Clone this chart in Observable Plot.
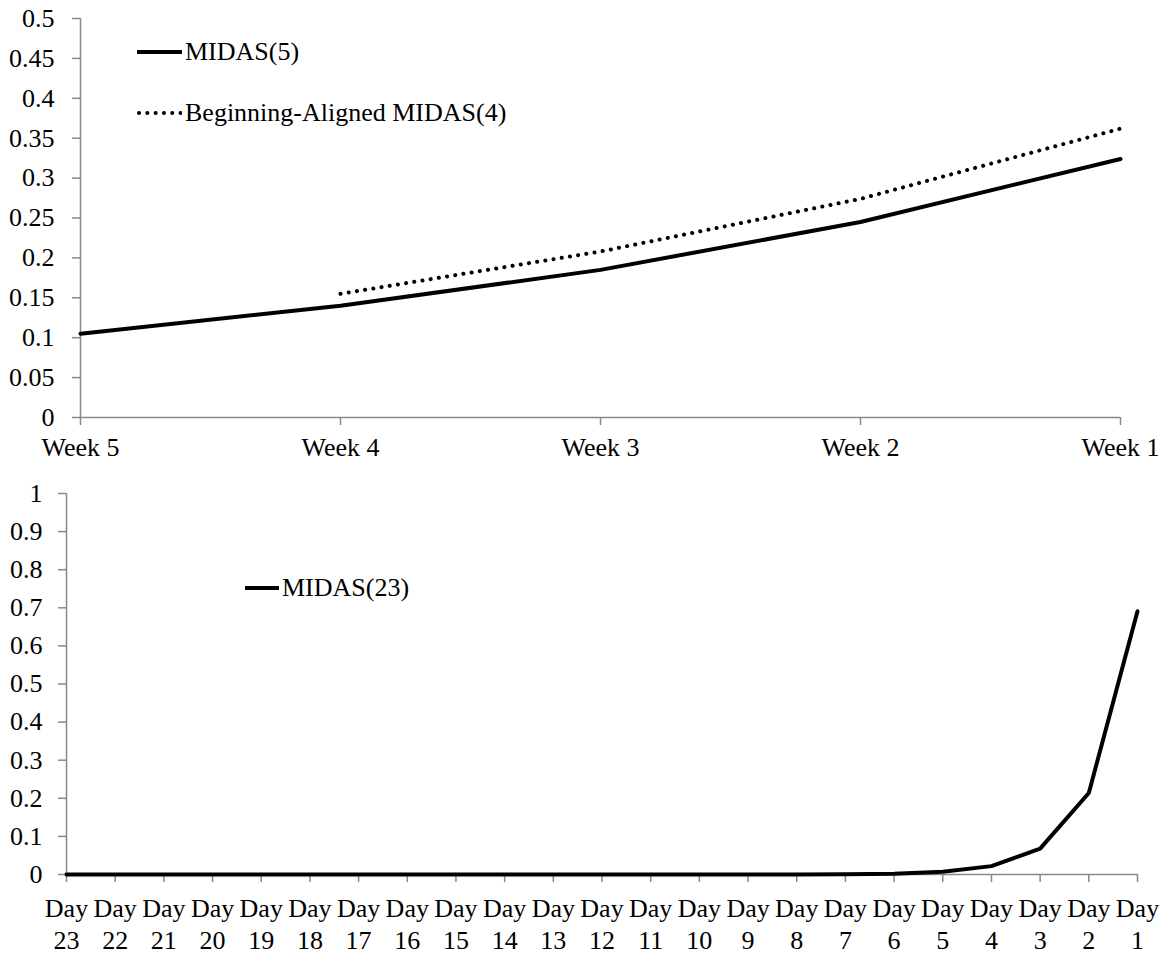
<!DOCTYPE html>
<html>
<head>
<meta charset="utf-8">
<script src="https://cdn.jsdelivr.net/npm/d3@7"></script>
<script src="https://cdn.jsdelivr.net/npm/@observablehq/plot@0.6"></script>
<style>
  html, body { margin: 0; padding: 0; background: #fff; }
  #wrap { position: relative; width: 1167px; height: 953px; font-family: "Liberation Serif", "Times New Roman", serif; }
  #wrap > svg { display: block; overflow: visible; }
  .leg { position: absolute; display: flex; align-items: center; font-size: 26px; color: #000; white-space: nowrap; line-height: 1; font-family: "Liberation Serif", "Times New Roman", serif; }
  .leg svg { display: block; margin-right: 3px; }
</style>
</head>
<body>
<div id="wrap"></div>
<script>
// ---- data ----
const weeks = ["Week 5", "Week 4", "Week 3", "Week 2", "Week 1"];
const midas5 = [0.105, 0.140, 0.185, 0.245, 0.324];
const beginAligned4 = [null, 0.155, 0.208, 0.274, 0.362];
const weekYTicks = [0, 0.05, 0.1, 0.15, 0.2, 0.25, 0.3, 0.35, 0.4, 0.45, 0.5];

const days = ["23","22","21","20","19","18","17","16","15","14","13","12","11","10","9","8","7","6","5","4","3","2","1"];
const midas23 = [0,0,0,0,0,0,0,0,0,0,0,0,0,0,0,0,0.0005,0.002,0.007,0.022,0.068,0.214,0.691];
const dayYTicks = [0, 0.1, 0.2, 0.3, 0.4, 0.5, 0.6, 0.7, 0.8, 0.9, 1];

const legendTop = ["MIDAS(5)", "Beginning-Aligned MIDAS(4)"];
const legendBottom = ["MIDAS(23)"];

// ---- tables ----
const topSolid = weeks.map((w, i) => ({x: w, y: midas5[i]}));
const topDotted = weeks.map((w, i) => ({x: w, y: beginAligned4[i]})).filter(d => d.y != null);
const bottomLine = days.map((d, i) => ({x: d, y: midas23[i]}));

const AXIS = "#898989";
const FONT = '"Liberation Serif", "Times New Roman", serif';
const fmtY = d => String(+d.toFixed(2));

const wrap = document.getElementById("wrap");

const topChart = Plot.plot({
  width: 1167,
  height: 455,
  marginLeft: 80,
  marginRight: 47,
  marginTop: 18,
  marginBottom: 38,
  style: {fontFamily: FONT, fontSize: "26px", color: "#000", background: "transparent", overflow: "visible"},
  x: {type: "point", domain: weeks, padding: 0, round: false},
  y: {domain: [0, 0.5]},
  marks: [
    Plot.axisY({ticks: weekYTicks, tickFormat: fmtY, tickSize: 8, tickPadding: 18, stroke: AXIS, fill: "#000", strokeWidth: 1.5, label: null, fontSize: 26, fontFamily: FONT}),
    Plot.axisX({tickSize: 8, tickPadding: 12, stroke: AXIS, fill: "#000", strokeWidth: 1.5, label: null, fontSize: 26, fontFamily: FONT}),
    Plot.ruleY([0], {stroke: AXIS, strokeWidth: 1.5}),
    Plot.ruleX([weeks[0]], {stroke: AXIS, strokeWidth: 1.5}),
    Plot.line(topDotted, {x: "x", y: "y", stroke: "#000", strokeWidth: 4, strokeDasharray: "0.1,8.2", strokeLinecap: "round"}),
    Plot.line(topSolid, {x: "x", y: "y", stroke: "#000", strokeWidth: 4})
  ]
});
wrap.appendChild(topChart);

const bottomChart = Plot.plot({
  width: 1167,
  height: 498,
  marginLeft: 66,
  marginRight: 30,
  marginTop: 38,
  marginBottom: 79,
  style: {fontFamily: FONT, fontSize: "26px", color: "#000", background: "transparent", overflow: "visible"},
  x: {type: "point", domain: days, padding: 0, round: false},
  y: {domain: [0, 1]},
  marks: [
    Plot.axisY({ticks: dayYTicks, tickFormat: fmtY, tickSize: 8, tickPadding: 16, stroke: AXIS, fill: "#000", strokeWidth: 1.5, label: null, fontSize: 26, fontFamily: FONT}),
    Plot.axisX({tickSize: 8, tickPadding: 11, stroke: AXIS, fill: "#000", strokeWidth: 1.5, label: null, fontSize: 26, fontFamily: FONT, lineHeight: 1.25, tickFormat: d => "Day\n" + d}),
    Plot.ruleY([0], {stroke: AXIS, strokeWidth: 1.5}),
    Plot.ruleX([days[0]], {stroke: AXIS, strokeWidth: 1.5}),
    Plot.line(bottomLine, {x: "x", y: "y", stroke: "#000", strokeWidth: 4})
  ]
});
wrap.appendChild(bottomChart);

// ---- legends (HTML overlays) ----
function addLegend(label, left, top, width, dashed) {
  const div = document.createElement("div");
  div.className = "leg";
  div.style.left = left + "px";
  div.style.top = (top - 15) + "px";
  div.style.height = "30px";
  const dash = dashed ? ' stroke-dasharray="0.1,8.2" stroke-linecap="round"' : '';
  div.innerHTML = `<svg width="${width}" height="10"><line x1="${dashed ? 2 : 0}" y1="5" x2="${width}" y2="5" stroke="#000" stroke-width="4"${dash}/></svg><span>${label}</span>`;
  wrap.appendChild(div);
}
addLegend(legendTop[0], 137, 52, 45, false);
addLegend(legendTop[1], 137, 113, 45, true);
addLegend(legendBottom[0], 245, 588, 34, false);
</script>
</body>
</html>
